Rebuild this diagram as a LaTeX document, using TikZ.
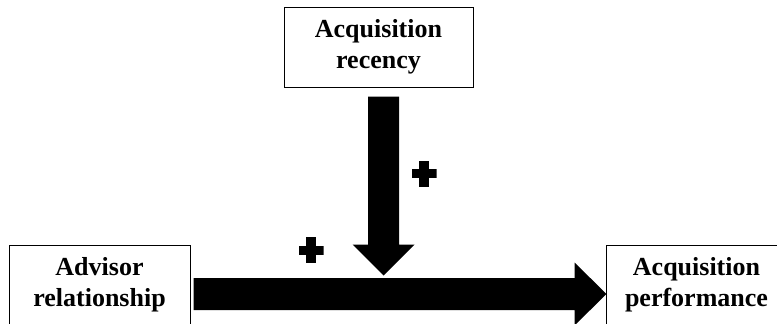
\documentclass[tikz,border=0pt]{standalone}
\usepackage{fontspec}
\setmainfont{Liberation Serif}
\usetikzlibrary{calc}
\begin{document}
\begin{tikzpicture}[x=1pt,y=-1pt,
  box/.style={draw=black, line width=1pt, align=center,
    font=\fontsize{26}{31}\selectfont\bfseries, inner sep=0pt,
    minimum height=80pt},
  blockarrow/.style={fill=black},
  plussign/.style={minimum width=25pt, minimum height=26pt, inner sep=0pt,
    path picture={
      \fill[black] ($(path picture bounding box.west)+(0,-4.5)$) rectangle ($(path picture bounding box.east)+(0,4.5)$);
      \fill[black] ($(path picture bounding box.north)+(-5,0)$) rectangle ($(path picture bounding box.south)+(5,0)$);
    }}
]
\useasboundingbox (0,0) rectangle (777,324);
\clip (0,0) rectangle (777,324);

\node[box, minimum width=189pt] (rec) at (378.5,47) {Acquisition\\recency};
\node[box, minimum width=181pt] (adv) at (99.5,285) {Advisor\\relationship};
\node[box, minimum width=181pt] (perf) at (696.5,285) {Acquisition\\performance};

% horizontal block arrow
\coordinate (hs) at ($(adv.east)+(3,9)$);
\coordinate (he) at ($(perf.west)+(1,9)$);
\fill[blockarrow] ($(hs)+(0,-16)$) -- ($(he)+(-32,-16)$) -- ($(he)+(-32,-31.5)$)
  -- (he) -- ($(he)+(-32,31.5)$) -- ($(he)+(-32,16)$) -- ($(hs)+(0,16)$) -- cycle;

% vertical block arrow
\coordinate (vs) at ($(rec.south)+(5,9)$);
\coordinate (ve) at ($(vs)+(0,179)$);
\fill[blockarrow] ($(vs)+(-15.5,0)$) -- ($(vs)+(15.5,0)$) -- ($(ve)+(15.5,-31)$)
  -- ($(ve)+(31,-31)$) -- (ve) -- ($(ve)+(-31,-31)$) -- ($(ve)+(-15.5,-31)$) -- cycle;

\node[plussign] (p1) at (424,173.5) {};
\node[plussign] (p2) at (311,250) {};
\end{tikzpicture}
\end{document}
